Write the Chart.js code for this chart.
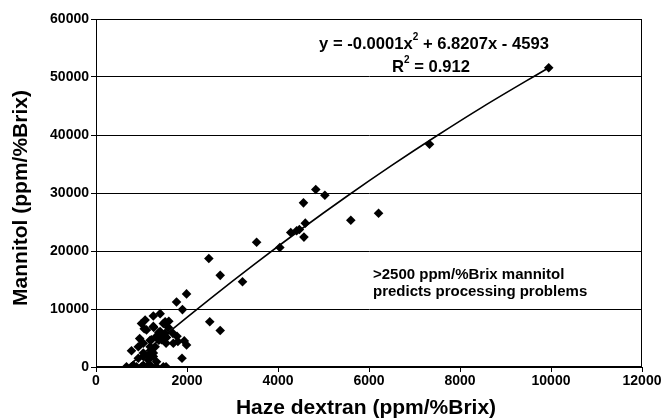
<!DOCTYPE html>
<html>
<head>
<meta charset="utf-8">
<script src="https://cdn.jsdelivr.net/npm/chart.js@4/dist/chart.umd.min.js"></script>
<style>
html,body{margin:0;padding:0;background:#fff;}
canvas{display:block;}
</style>
</head>
<body>
<canvas id="c" width="665" height="419"></canvas>
<script>
// Haze dextran (x) vs Mannitol (y), ppm/%Brix
const hazeDextran = [
  9950, 7330, 6210, 5600, 4830, 5030, 4560, 4600, 4280, 4410, 4470, 4570, 3530, 4040, 3220,
  2480, 2730, 2500, 2730, 1990, 1770, 1900,
  1410, 1260, 1080, 1000, 1480, 1600, 1520, 1260, 1110, 1410, 1520, 1330, 1690, 1590, 1780,
  1550, 1220, 1440, 1700, 1800, 1940, 1990, 1040, 930, 1190, 1300, 780, 1040, 1260, 1220,
  930, 1150, 1330, 1040, 1890, 1190, 820, 670, 780, 890, 1000, 1110, 1220, 1330, 1480, 1540,
  1040, 1260, 1150, 1380, 1470, 1540, 1380, 1190, 960, 1060, 1270
];
const mannitol = [
  51600, 38400, 26500, 25300, 30600, 29600, 28300, 24800, 23200, 23500, 23700, 22400, 21500, 20600, 14700,
  18700, 15800, 7800, 6300, 12600, 11200, 9900,
  9200, 8800, 8100, 7500, 7500, 7900, 7800, 7000, 6400, 6100, 5800, 5300, 5800, 6800, 5300,
  5100, 4700, 4700, 4100, 4400, 4500, 3800, 4100, 3500, 3500, 3500, 2800, 2400, 2400, 2900,
  1500, 1200, 900, 300, 1500, 300, 300, 50, 50, 50, 50, 50, 50, 50, 50, 50,
  1800, 1800, 2100, 5900, 5600, 4100, 4600, 4600, 4900, 6600, 6800
];
// Polynomial trendline as drawn
const trendX = [700, 1500, 2500, 3500, 4500, 5500, 6500, 7500, 8500, 9950];
const trendY = [100, 5370, 11720, 17830, 23710, 29350, 34750, 39910, 44850, 51600];

const xTicks = [0, 2000, 4000, 6000, 8000, 10000, 12000];
const yTicks = [0, 10000, 20000, 30000, 40000, 50000, 60000];

// equation pieces: [text, isSuperscript]
const equationLine1 = [['y = -0.0001x', false], ['2', true], [' + 6.8207x - 4593', false]];
const equationLine2 = [['R', false], ['2', true], [' = 0.912', false]];
const noteText = ['>2500 ppm/%Brix mannitol', 'predicts processing problems'];
const xTitle = 'Haze dextran (ppm/%Brix)';
const yTitle = 'Mannitol (ppm/%Brix)';

const FONT = "Arial, 'Liberation Sans', sans-serif";

const pts = hazeDextran.map((x, i) => ({x: x, y: mannitol[i]}));
const trend = trendX.map((x, i) => ({x: x, y: trendY[i]}));

function drawRich(ctx, parts, cx, cy, size) {
  const big = 'bold ' + size + 'px ' + FONT;
  const small = 'bold ' + Math.round(size * 0.62) + 'px ' + FONT;
  let total = 0;
  const widths = parts.map(p => { ctx.font = p[1] ? small : big; const w = ctx.measureText(p[0]).width; total += w; return w; });
  let x = cx - total / 2;
  ctx.textAlign = 'left';
  ctx.textBaseline = 'middle';
  parts.forEach((p, i) => {
    ctx.font = p[1] ? small : big;
    ctx.fillText(p[0], x, p[1] ? cy - size * 0.38 : cy);
    x += widths[i];
  });
}

const decor = {
  id: 'decor',
  afterDraw(chart) {
    const ctx = chart.ctx, a = chart.chartArea;
    ctx.save();
    ctx.strokeStyle = '#000';
    ctx.lineWidth = 1;
    ctx.strokeRect(Math.round(a.left) + 0.5, Math.round(a.top) + 0.5, Math.round(a.right - a.left) - 1, Math.round(a.bottom - a.top) - 1);
    ctx.fillStyle = '#000';
    // axis titles
    ctx.font = 'bold 21px ' + FONT;
    ctx.textAlign = 'center';
    ctx.textBaseline = 'middle';
    ctx.fillText(xTitle, 366, 408);
    ctx.save();
    ctx.translate(21, (a.top + a.bottom) / 2 + 5);
    ctx.rotate(-Math.PI / 2);
    ctx.fillText(yTitle, 0, 0);
    ctx.restore();
    // equation
    drawRich(ctx, equationLine1, 434, 44, 16.6);
    drawRich(ctx, equationLine2, 431, 67, 16.6);
    // note
    ctx.font = 'bold 15px ' + FONT;
    ctx.textAlign = 'left';
    ctx.textBaseline = 'middle';
    ctx.fillText(noteText[0], 373, 275);
    ctx.fillText(noteText[1], 373, 292);
    ctx.restore();
  }
};

new Chart(document.getElementById('c'), {
  type: 'scatter',
  data: {
    datasets: [
      {
        label: 'data',
        data: pts,
        pointStyle: 'rectRot',
        pointRadius: 4.8,
        pointBackgroundColor: '#000',
        pointBorderColor: '#000',
        pointBorderWidth: 0,
        showLine: false,
        order: 2
      },
      {
        label: 'trend',
        data: trend,
        showLine: true,
        borderColor: '#000',
        borderWidth: 1.6,
        pointRadius: 0,
        cubicInterpolationMode: 'monotone',
        fill: false,
        order: 1
      }
    ]
  },
  options: {
    responsive: false,
    animation: false,
    devicePixelRatio: 1,
    layout: {padding: {left: 0, top: 19, right: 23, bottom: 0}},
    plugins: {legend: {display: false}, tooltip: {enabled: false}},
    scales: {
      x: {
        type: 'linear',
        min: 0, max: 12000,
        afterBuildTicks(s) { s.ticks = xTicks.map(v => ({value: v})); },
        afterFit(s) { s.height = 52; },
        ticks: {
          color: '#000',
          font: {family: FONT, size: 14, weight: 'bold'},
          padding: 1,
          maxRotation: 0,
          autoSkip: false,
          callback: v => String(v)
        },
        grid: {drawOnChartArea: false, drawTicks: true, tickLength: 5, color: '#000', lineWidth: 1},
        border: {display: true, color: '#000', width: 1}
      },
      y: {
        type: 'linear',
        min: 0, max: 60000,
        afterBuildTicks(s) { s.ticks = yTicks.map(v => ({value: v})); },
        afterFit(s) { s.width = 96; },
        ticks: {
          color: '#000',
          font: {family: FONT, size: 14, weight: 'bold'},
          padding: 2,
          autoSkip: false,
          callback: v => String(v)
        },
        grid: {drawOnChartArea: true, drawTicks: true, tickLength: 5, color: '#000', lineWidth: 1},
        border: {display: true, color: '#000', width: 1}
      }
    }
  },
  plugins: [decor]
});
</script>
</body>
</html>
